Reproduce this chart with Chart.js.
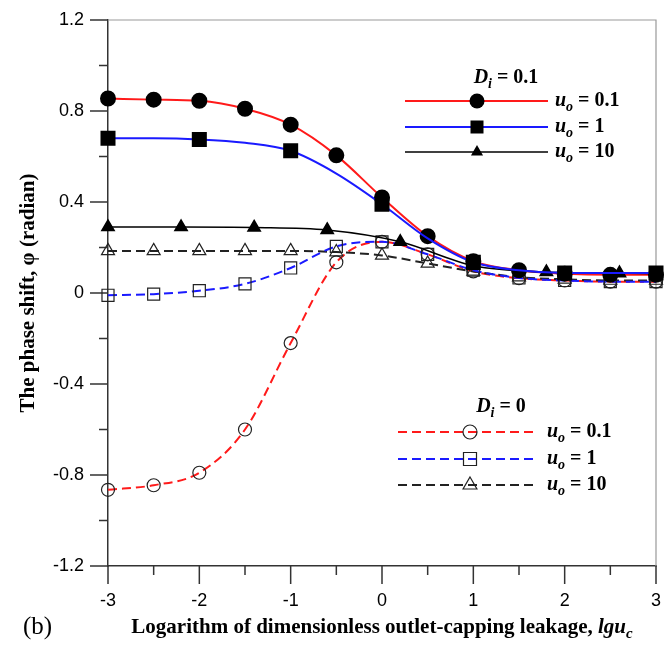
<!DOCTYPE html>
<html>
<head>
<meta charset="utf-8">
<script src="https://cdn.jsdelivr.net/npm/chart.js@4.4.1/dist/chart.umd.min.js"></script>
<style>
  html, body { margin: 0; padding: 0; background: #fff; }
  #wrap { width: 668px; height: 648px; position: relative; }
</style>
</head>
<body>
<div id="wrap"><canvas id="myChart"></canvas></div>
<script>
// x positions of the points
const xHalf = [-3, -2.5, -2, -1.5, -1, -0.5, 0, 0.5, 1, 1.5, 2, 2.5, 3];
const xTri = [-3, -2.2, -1.4, -0.6, 0.2, 1.0, 1.8, 2.6, 3];

// D_i = 0.1
const redSolid = [0.855, 0.85, 0.845, 0.81, 0.74, 0.605, 0.42, 0.25, 0.14, 0.1, 0.085, 0.08, 0.08];
const blueSolid = [0.68, 0.68, 0.675, 0.66, 0.625, 0.525, 0.39, 0.24, 0.135, 0.1, 0.088, 0.088, 0.088];
const blackSolid = [0.29, 0.29, 0.288, 0.277, 0.225, 0.12, 0.092, 0.087, 0.085];

// D_i = 0
const redDashed = [-0.865, -0.845, -0.79, -0.6, -0.22, 0.135, 0.225, 0.17, 0.095, 0.065, 0.055, 0.05, 0.05];
const blueDashed = [-0.01, -0.005, 0.01, 0.04, 0.11, 0.205, 0.225, 0.17, 0.1, 0.066, 0.055, 0.05, 0.05];
const blackDashed = [0.185, 0.185, 0.185, 0.185, 0.185, 0.18, 0.165, 0.13, 0.095, 0.07, 0.06, 0.055, 0.055];

// ticks
const xMajor = [-3, -2, -1, 0, 1, 2, 3];
const xMinor = [-2.5, -1.5, -0.5, 0.5, 1.5, 2.5];
const yMajor = [-1.2, -0.8, -0.4, 0, 0.4, 0.8, 1.2];
const yMinor = [-1.0, -0.6, -0.2, 0.2, 0.6, 1.0];

// legend texts
const diValues = ['0.1', '0'];
const uoValues = ['0.1', '1', '10'];

const serif = '"Liberation Serif", "Times New Roman", serif';
const sans = '"Liberation Sans", Arial, sans-serif';

function pts(xs, ys) {
  return xs.map((x, i) => ({ x: x, y: ys[i] }));
}

const ctx = document.getElementById('myChart').getContext('2d');

const datasets = [
  {
    label: 'Di=0.1, uo=1',
    data: pts(xHalf, blueSolid),
    borderColor: '#1a1aff',
    borderWidth: 2,
    pointStyle: 'rect',
    pointRadius: (c) => (Number.isInteger(c.raw.x) ? 9.2 : 0),
    pointBackgroundColor: '#000',
    pointBorderColor: '#000',
    mark: { style: 'rect', r: 6.5, fill: true },
  },
  {
    label: 'Di=0.1, uo=10',
    data: pts(xTri, blackSolid),
    borderColor: '#000',
    borderWidth: 1.6,
    pointStyle: 'triangle',
    pointRadius: (c) => (c.raw.x < 3 ? 7 : 0),
    pointBackgroundColor: '#000',
    pointBorderColor: '#000',
    mark: { style: 'triangle', r: 7, fill: true },
  },
  {
    label: 'Di=0.1, uo=0.1',
    data: pts(xHalf, redSolid),
    borderColor: '#ff1a1a',
    borderWidth: 2,
    pointStyle: 'circle',
    pointRadius: 7,
    pointBackgroundColor: '#000',
    pointBorderColor: '#000',
    mark: { style: 'circle', r: 7.5, fill: true },
  },
  {
    label: 'Di=0, uo=1',
    data: pts(xHalf, blueDashed),
    borderColor: '#1a1aff',
    borderWidth: 2,
    borderDash: [9, 5],
    pointStyle: 'rect',
    pointRadius: 8.5,
    pointBorderWidth: 1.2,
    pointBackgroundColor: 'rgba(0,0,0,0)',
    pointBorderColor: '#222',
    mark: { style: 'rect', r: 6.5, fill: false },
  },
  {
    label: 'Di=0, uo=10',
    data: pts(xHalf, blackDashed),
    borderColor: '#222',
    borderWidth: 2,
    borderDash: [9, 5],
    pointStyle: 'triangle',
    pointRadius: 7.5,
    pointBorderWidth: 1.2,
    pointBackgroundColor: 'rgba(0,0,0,0)',
    pointBorderColor: '#222',
    mark: { style: 'triangle', r: 8, fill: false },
  },
  {
    label: 'Di=0, uo=0.1',
    data: pts(xHalf, redDashed),
    borderColor: '#ff1a1a',
    borderWidth: 2,
    borderDash: [9, 5],
    pointStyle: 'circle',
    pointRadius: 6.5,
    pointBorderWidth: 1.2,
    pointBackgroundColor: 'rgba(0,0,0,0)',
    pointBorderColor: '#222',
    mark: { style: 'circle', r: 7, fill: false },
  },
];

// legend groups: title value, dataset indices per row, placement
const legendGroups = [
  { di: diValues[0], rows: [2, 0, 1], tx: 506, ty: 78, ys: [101, 127, 152], x1: 405, x2: 548, mx: 477, lx: 555 },
  { di: diValues[1], rows: [5, 3, 4], tx: 501, ty: 407, ys: [432, 459, 485], x1: 398, x2: 537, mx: 470, lx: 547 },
];

// draws text made of parts with different fonts (italic, subscripts)
function richText(c, parts, x, y, align) {
  let w = 0;
  parts.forEach((p) => {
    c.font = p.f;
    p.w = c.measureText(p.t).width;
    w += p.w;
  });
  let cx = align === 'center' ? x - w / 2 : x;
  c.textAlign = 'left';
  c.textBaseline = 'middle';
  parts.forEach((p) => {
    c.font = p.f;
    c.fillText(p.t, cx, y + (p.dy || 0));
    cx += p.w;
  });
}

function drawMark(c, m, x, y) {
  c.save();
  c.setLineDash([]);
  c.lineWidth = 1.2;
  c.fillStyle = '#000';
  c.strokeStyle = '#222';
  c.beginPath();
  if (m.style === 'circle') {
    c.arc(x, y, m.r, 0, Math.PI * 2);
  } else if (m.style === 'rect') {
    c.rect(x - m.r, y - m.r, m.r * 2, m.r * 2);
  } else {
    const h = m.r * 0.5;
    c.moveTo(x, y - m.r);
    c.lineTo(x + m.r * 0.866, y + h);
    c.lineTo(x - m.r * 0.866, y + h);
    c.closePath();
  }
  if (m.fill) c.fill();
  else c.stroke();
  c.restore();
}

const extras = {
  id: 'extras',
  beforeDatasetsDraw(chart) {
    const c = chart.ctx;
    const a = chart.chartArea;
    const xs = chart.scales.x;
    const ys = chart.scales.y;
    c.save();
    // thin grey frame on top and right
    c.strokeStyle = '#999';
    c.lineWidth = 1.2;
    c.beginPath();
    c.moveTo(a.left, a.top);
    c.lineTo(a.right, a.top);
    c.lineTo(a.right, a.bottom);
    c.stroke();
    // tick marks, outward
    c.strokeStyle = '#333';
    c.lineWidth = 1.5;
    c.beginPath();
    xMajor.forEach((v) => {
      const p = xs.getPixelForValue(v);
      c.moveTo(p, a.bottom);
      c.lineTo(p, a.bottom + 18);
    });
    xMinor.forEach((v) => {
      const p = xs.getPixelForValue(v);
      c.moveTo(p, a.bottom);
      c.lineTo(p, a.bottom + 9);
    });
    yMajor.forEach((v) => {
      const p = ys.getPixelForValue(v);
      c.moveTo(a.left - 18, p);
      c.lineTo(a.left, p);
    });
    yMinor.forEach((v) => {
      const p = ys.getPixelForValue(v);
      c.moveTo(a.left - 9, p);
      c.lineTo(a.left, p);
    });
    c.stroke();
    c.restore();
  },
  afterDraw(chart) {
    const c = chart.ctx;
    const a = chart.chartArea;
    c.save();
    c.fillStyle = '#000';

    legendGroups.forEach((g) => {
      richText(c, [
        { t: 'D', f: 'italic bold 20px ' + serif },
        { t: 'i', f: 'italic bold 14px ' + serif, dy: 6 },
        { t: ' = ' + g.di, f: 'bold 20px ' + serif },
      ], g.tx, g.ty, 'center');
      g.rows.forEach((di, k) => {
        const ds = chart.data.datasets[di];
        const y = g.ys[k];
        c.save();
        c.strokeStyle = ds.borderColor;
        c.lineWidth = ds.borderWidth;
        c.setLineDash(ds.borderDash || []);
        c.beginPath();
        c.moveTo(g.x1, y);
        c.lineTo(g.x2, y);
        c.stroke();
        c.restore();
        drawMark(c, ds.mark, g.mx, y);
        c.fillStyle = '#000';
        richText(c, [
          { t: 'u', f: 'italic bold 20px ' + serif },
          { t: 'o', f: 'italic bold 14px ' + serif, dy: 6 },
          { t: ' = ' + uoValues[k], f: 'bold 20px ' + serif },
        ], g.lx, y, 'left');
      });
    });

    // x axis title
    richText(c, [
      { t: 'Logarithm of dimensionless outlet-capping leakage, ', f: 'bold 21px ' + serif },
      { t: 'lgu', f: 'italic bold 21px ' + serif },
      { t: 'c', f: 'italic bold 15px ' + serif, dy: 6 },
    ], (a.left + a.right) / 2, 628, 'center');

    // panel label
    c.font = '25px ' + serif;
    c.textAlign = 'left';
    c.textBaseline = 'middle';
    c.fillText('(b)', 23, 627);
    c.restore();
  },
};

const myChart = new Chart(ctx, {
  type: 'line',
  data: { datasets: datasets },
  options: {
    responsive: true,
    maintainAspectRatio: false,
    animation: false,
    devicePixelRatio: 1,
    layout: { padding: { left: 8, right: 12, top: 20, bottom: 0 } },
    elements: {
      line: { cubicInterpolationMode: 'monotone', fill: false },
    },
    datasets: { line: { clip: false } },
    plugins: {
      legend: { display: false },
      tooltip: { enabled: false },
    },
    scales: {
      x: {
        type: 'linear',
        min: -3,
        max: 3,
        afterBuildTicks: (s) => {
          s.ticks = xMajor.map((v) => ({ value: v }));
        },
        afterFit: (s) => {
          s.height = 82;
        },
        grid: { display: true, drawOnChartArea: false, drawTicks: true, tickLength: 18, tickColor: 'rgba(0,0,0,0)' },
        border: { display: true, color: '#333', width: 1.5 },
        ticks: {
          padding: 6,
          color: '#000',
          maxRotation: 0,
          font: { family: sans, size: 18 },
          callback: (v) => String(v),
        },
      },
      y: {
        type: 'linear',
        min: -1.2,
        max: 1.2,
        afterBuildTicks: (s) => {
          s.ticks = yMajor.map((v) => ({ value: v }));
        },
        afterFit: (s) => {
          s.width = 100;
        },
        grid: { display: true, drawOnChartArea: false, drawTicks: true, tickLength: 18, tickColor: 'rgba(0,0,0,0)' },
        border: { display: true, color: '#333', width: 1.5 },
        ticks: {
          padding: 6,
          color: '#000',
          font: { family: sans, size: 18 },
          callback: (v) => (Math.abs(v) < 1e-9 ? '0' : v.toFixed(1)),
        },
        title: {
          display: true,
          text: 'The phase shift, φ (radian)',
          color: '#000',
          font: { family: serif, size: 21, weight: 'bold' },
          padding: { top: 8, bottom: 0 },
        },
      },
    },
  },
  plugins: [extras],
});
</script>
</body>
</html>
